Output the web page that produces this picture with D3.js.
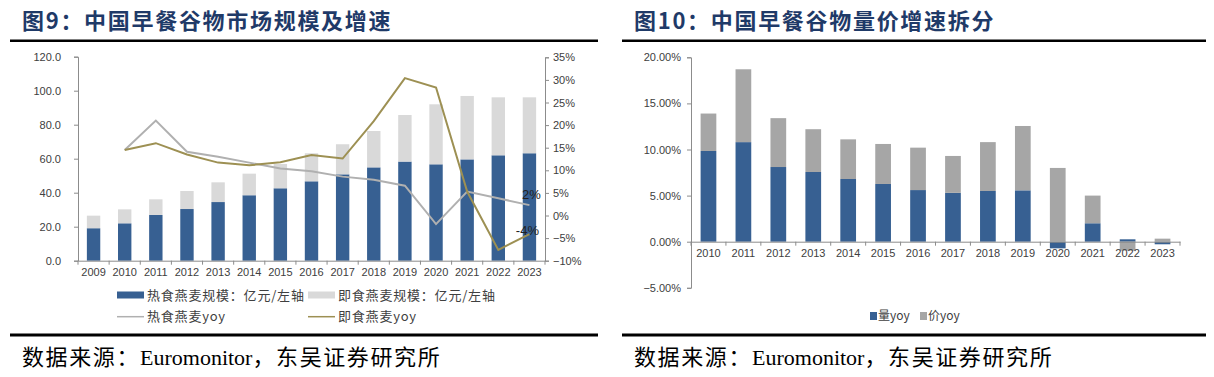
<!DOCTYPE html>
<html>
<head>
<meta charset="utf-8">
<script src="https://cdn.jsdelivr.net/npm/d3@7"></script>
<style>
  body { margin: 0; background: #fff; }
  svg { display: block; }
  text { font-family: "Liberation Sans", Arial, sans-serif; }
  .cjk { font-family: "Noto Sans CJK SC", sans-serif; }
</style>
</head>
<body>
<svg id="chart" width="1214" height="377"></svg>
<script>
// ---- data: 图9 market size (亿元) and yoy (%)
const years9 = ["2009","2010","2011","2012","2013","2014","2015","2016","2017","2018","2019","2020","2021","2022","2023"];
const hotSize = [19.1, 22.0, 26.9, 30.4, 34.5, 38.5, 42.6, 46.7, 50.8, 54.9, 58.3, 56.7, 59.6, 62.0, 63.2];
const instantSize = [7.4, 8.2, 9.2, 10.6, 11.6, 12.7, 14.3, 16.5, 17.7, 21.4, 27.4, 35.3, 37.3, 34.1, 32.9];
const hotYoy = [null, 14.5, 21.0, 14.1, 13.0, 11.7, 10.4, 9.8, 8.6, 7.9, 6.6, -1.9, 5.3, 3.8, 2.3];
const instantYoy = [null, 14.5, 16.0, 13.5, 11.7, 11.1, 11.8, 13.4, 12.6, 20.9, 30.4, 28.3, 5.3, -7.6, -4.1];
const sizeTicks = [0, 20, 40, 60, 80, 100, 120];
const pctTicks = [-10, -5, 0, 5, 10, 15, 20, 25, 30, 35];

// ---- data: 图10 volume / price yoy (%)
const years10 = ["2010","2011","2012","2013","2014","2015","2016","2017","2018","2019","2020","2021","2022","2023"];
const volYoy = [9.84, 10.8, 8.1, 7.56, 6.8, 6.26, 5.6, 5.3, 5.5, 5.57, -0.72, 2.0, 0.26, -0.28];
const priceYoy = [4.06, 7.9, 5.3, 4.64, 4.3, 4.34, 4.6, 4.0, 5.3, 6.98, 8.0, 3.0, -0.98, 0.33];
const yoyTicks = [-5, 0, 5, 10, 15, 20];

const BLUE = "#376092";
const LIGHT = "#d9d9d9";
const GREY_BAR = "#a6a6a6";
const HOT_LINE = "#b0b0b0";
const OLIVE = "#9d9053";
const AXIS = "#8c8c8c";
const LABEL = "#404040";

const svg = d3.select("#chart");
const minus = (s) => s.replace("-", "\u2212");

// title, rules and source for one panel
function frame(x0, x1, title) {
  svg.append("text")
    .attr("class", "cjk")
    .attr("x", x0 + 12)
    .attr("y", 29)
    .attr("font-size", 22)
    .attr("font-weight", 700)
    .attr("letter-spacing", 1.7)
    .attr("fill", "#1f3a68")
    .text(title);
  svg.append("rect").attr("x", x0).attr("y", 39.5).attr("width", x1 - x0).attr("height", 2.5).attr("fill", "#000");
  svg.append("rect").attr("x", x0).attr("y", 333.5).attr("width", x1 - x0).attr("height", 3).attr("fill", "#000");
  const src = svg.append("text")
    .attr("x", x0 + 12)
    .attr("y", 365)
    .attr("font-size", 22)
    .attr("fill", "#000");
  src.append("tspan").attr("class", "cjk").attr("letter-spacing", 1.6).text("数据来源：");
  src.append("tspan").attr("font-family", "Liberation Serif").text("Euromonitor");
  src.append("tspan").attr("class", "cjk").attr("letter-spacing", 1.6).text("，东吴证券研究所");
}

function styleAxis(g) {
  g.select(".domain").attr("stroke", AXIS);
  g.selectAll(".tick line").attr("stroke", AXIS);
  g.selectAll(".tick text").attr("fill", LABEL).attr("font-size", 11);
}

// band boundary ticks under an x axis
function boundaryTicks(scale, y) {
  const [a] = scale.range();
  const n = scale.domain().length;
  svg.append("g")
    .selectAll("line")
    .data(d3.range(n + 1))
    .join("line")
    .attr("x1", (i) => a + i * scale.step())
    .attr("x2", (i) => a + i * scale.step())
    .attr("y1", y)
    .attr("y2", y + 4)
    .attr("stroke", AXIS);
}

// ================= 图9 =================
frame(10, 598, "图9：中国早餐谷物市场规模及增速");

const x9 = d3.scaleBand().domain(years9).range([78, 545]).paddingInner(0.57).paddingOuter(0.285);
const ySize = d3.scaleLinear().domain([0, 120]).range([260.7, 56.7]);
const yPct = d3.scaleLinear().domain([-10, 35]).range([260.7, 57.3]);

const rows9 = years9.map((y, i) => ({ year: y, hot: hotSize[i], instant: instantSize[i] }));
const stack9 = d3.stack().keys(["hot", "instant"])(rows9);
const colors9 = { hot: BLUE, instant: LIGHT };

svg.append("g")
  .selectAll("g")
  .data(stack9)
  .join("g")
  .attr("fill", (s) => colors9[s.key])
  .selectAll("rect")
  .data((s) => s)
  .join("rect")
  .attr("x", (d) => x9(d.data.year))
  .attr("width", x9.bandwidth())
  .attr("y", (d) => ySize(d[1]))
  .attr("height", (d) => ySize(d[0]) - ySize(d[1]));

svg.append("g")
  .attr("transform", "translate(78,0)")
  .call(d3.axisLeft(ySize).tickValues(sizeTicks).tickSize(4).tickPadding(13).tickFormat(d3.format(".1f")))
  .call(styleAxis);

svg.append("g")
  .attr("transform", "translate(545,0)")
  .call(d3.axisRight(yPct).tickValues(pctTicks).tickSize(4).tickPadding(4).tickFormat((d) => minus(d + "%")))
  .call(styleAxis);

svg.append("g")
  .attr("transform", "translate(0,260.7)")
  .call(d3.axisBottom(x9).tickSize(0).tickPadding(8))
  .call(styleAxis);
boundaryTicks(x9, 260.7);

const line9 = d3.line()
  .defined((d) => d.v != null)
  .x((d) => x9(d.year) + x9.bandwidth() / 2)
  .y((d) => yPct(d.v));

const series9 = [
  { key: "hot", color: HOT_LINE, values: years9.map((y, i) => ({ year: y, v: hotYoy[i] })), dx: 2, dy: -11 },
  { key: "instant", color: OLIVE, values: years9.map((y, i) => ({ year: y, v: instantYoy[i] })), dx: -2, dy: -4 },
];

svg.append("g")
  .selectAll("path")
  .data(series9)
  .join("path")
  .attr("fill", "none")
  .attr("stroke", (s) => s.color)
  .attr("stroke-width", 2)
  .attr("d", (s) => line9(s.values));

// end labels on the two yoy lines
svg.append("g")
  .selectAll("text")
  .data(series9)
  .join("text")
  .attr("x", (s) => x9(s.values[s.values.length - 1].year) + x9.bandwidth() / 2 + s.dx)
  .attr("y", (s) => yPct(s.values[s.values.length - 1].v) + s.dy)
  .attr("dy", "0.35em")
  .attr("text-anchor", "middle")
  .attr("font-size", 13)
  .attr("fill", "#222")
  .text((s) => Math.round(s.values[s.values.length - 1].v) + "%");

// legend 图9
const legend9 = [
  { label: "热食燕麦规模：亿元/左轴", type: "bar", color: BLUE, x: 117, y: 295 },
  { label: "即食燕麦规模：亿元/左轴", type: "bar", color: LIGHT, x: 308, y: 295 },
  { label: "热食燕麦yoy", type: "line", color: HOT_LINE, x: 117, y: 316.7 },
  { label: "即食燕麦yoy", type: "line", color: OLIVE, x: 308, y: 316.7 },
];
const lg9 = svg.append("g").selectAll("g").data(legend9).join("g")
  .attr("transform", (d) => `translate(${d.x},${d.y})`);
lg9.filter((d) => d.type === "bar").append("rect")
  .attr("x", 0).attr("y", -3.5).attr("width", 27).attr("height", 7).attr("fill", (d) => d.color);
lg9.filter((d) => d.type === "line").append("line")
  .attr("x1", 0).attr("x2", 27).attr("stroke", (d) => d.color).attr("stroke-width", 1.5);
lg9.append("text")
  .attr("class", "cjk")
  .attr("x", 30)
  .attr("dy", "0.35em")
  .attr("font-size", 13)
  .attr("letter-spacing", 0.8)
  .attr("fill", LABEL)
  .text((d) => d.label);

// ================= 图10 =================
frame(622, 1206, "图10：中国早餐谷物量价增速拆分");

const x10 = d3.scaleBand().domain(years10).range([691, 1180]).paddingInner(0.55).paddingOuter(0.275);
const y10 = d3.scaleLinear().domain([-5, 20]).range([287.8, 57.3]);

const rows10 = years10.map((y, i) => ({ year: y, vol: volYoy[i], price: priceYoy[i] }));
const stack10 = d3.stack().keys(["vol", "price"]).offset(d3.stackOffsetDiverging)(rows10);
const colors10 = { vol: BLUE, price: GREY_BAR };

svg.append("g")
  .selectAll("g")
  .data(stack10)
  .join("g")
  .attr("fill", (s) => colors10[s.key])
  .selectAll("rect")
  .data((s) => s)
  .join("rect")
  .attr("x", (d) => x10(d.data.year))
  .attr("width", x10.bandwidth())
  .attr("y", (d) => y10(d[1]))
  .attr("height", (d) => y10(d[0]) - y10(d[1]));

svg.append("g")
  .attr("transform", "translate(691,0)")
  .call(d3.axisLeft(y10).tickValues(yoyTicks).tickSize(4).tickPadding(6).tickFormat((d) => minus(d3.format(".2f")(d) + "%")))
  .call(styleAxis);

svg.append("g")
  .attr("transform", `translate(0,${y10(0)})`)
  .call(d3.axisBottom(x10).tickSize(0).tickPadding(8))
  .call(styleAxis);
boundaryTicks(x10, y10(0));

// legend 图10
const legend10 = [
  { label: "量yoy", color: BLUE, x: 870 },
  { label: "价yoy", color: GREY_BAR, x: 920 },
];
const lg10 = svg.append("g").selectAll("g").data(legend10).join("g")
  .attr("transform", (d) => `translate(${d.x},316)`);
lg10.append("rect").attr("x", 0).attr("y", -4).attr("width", 7).attr("height", 8).attr("fill", (d) => d.color);
lg10.append("text")
  .attr("class", "cjk")
  .attr("x", 8)
  .attr("dy", "0.35em")
  .attr("font-size", 12)
  .attr("fill", LABEL)
  .text((d) => d.label);
</script>
</body>
</html>
